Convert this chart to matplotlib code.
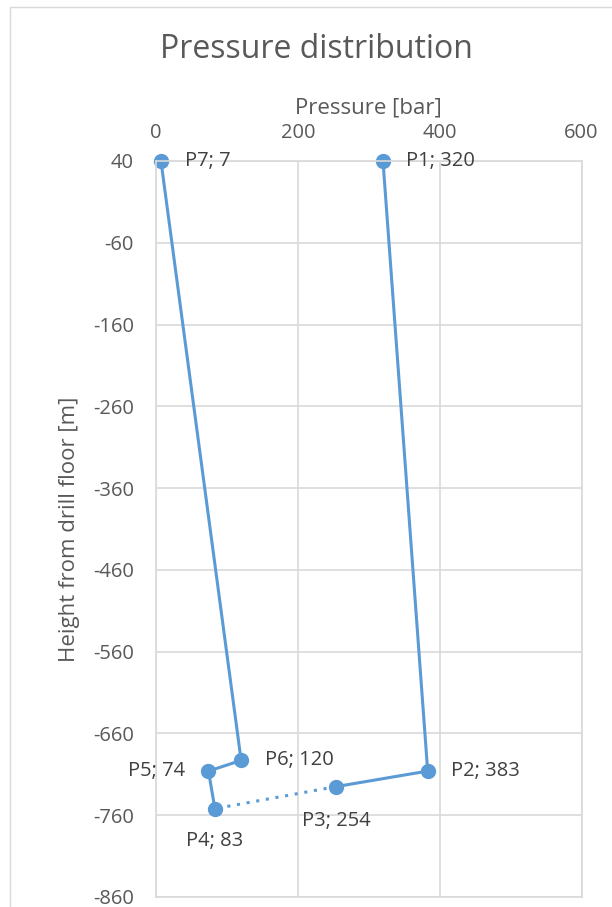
import matplotlib.pyplot as plt
from matplotlib.patches import Rectangle

# Стойности, отчетени от графиката
labels = ['P1', 'P2', 'P3', 'P4', 'P5', 'P6', 'P7']
pressure = [320, 383, 254, 83, 74, 120, 7]
height = [40, -706, -725, -752, -706, -693, 40]

x_ticks = [0, 200, 400, 600]
y_ticks = [40, -60, -160, -260, -360, -460, -560, -660, -760, -860]

blue = '#5b9bd5'
grid = '#d9d9d9'
txt = '#595959'
plt.rcParams['font.family'] = ['Open Sans', 'DejaVu Sans']
plt.rcParams['axes.unicode_minus'] = False

fig = plt.figure(figsize=(6.12, 9.07), dpi=100)
fig.patches.append(Rectangle((10 / 612, -0.1), 1.2, 1 - 7 / 907 + 0.1,
                             transform=fig.transFigure, fill=False,
                             edgecolor=grid, linewidth=1))
ax = fig.add_axes([156 / 612, 1 - 897 / 907, (581.6 - 156) / 612, (897 - 161) / 907])

# плътна линия P1-P2-P3, пунктир P3-P4, плътна P4-P7
ax.plot(pressure[:3], height[:3], color=blue, lw=2.2, marker='o', ms=10, clip_on=False)
ax.plot(pressure[2:4], height[2:4], color=blue, lw=2.2, ls=(0, (1, 2.2)))
ax.plot(pressure[3:], height[3:], color=blue, lw=2.2, marker='o', ms=10, clip_on=False)

offs = {'P1': (16.5, 0, 'left'), 'P2': (16.5, 0, 'left'),
        'P3': (0, -24.5, 'center'), 'P4': (0, -23, 'center'),
        'P5': (-16.5, 0, 'right'), 'P6': (17, 0, 'left'),
        'P7': (17, 0, 'left')}
for lab, p, h in zip(labels, pressure, height):
    dx, dy, ha = offs[lab]
    ax.annotate(f'{lab}; {p}', (p, h), xytext=(dx, dy), textcoords='offset points',
                ha=ha, va='center', fontsize=14.5, color='#404040')

ax.set_xlim(0, 600)
ax.set_ylim(-860, 40)
ax.set_xticks(x_ticks)
ax.set_yticks(y_ticks)
ax.xaxis.tick_top()
ax.xaxis.set_label_position('top')
ax.tick_params(length=0, labelsize=14.5, labelcolor=txt)
ax.tick_params(axis='x', pad=13)
ax.tick_params(axis='y', pad=16)
ax.grid(True, color=grid, lw=1.2)
for s in ax.spines.values():
    s.set_color(grid)
    s.set_linewidth(1.2)

ax.set_xlabel('Pressure [bar]', fontsize=16, color=txt, labelpad=7)
ax.set_ylabel('Height from drill floor [m]', fontsize=16, color=txt, labelpad=9)
fig.text(316 / 612, 1 - 50 / 907, 'Pressure distribution', ha='center', va='center',
         fontsize=23, color=txt)

fig.savefig('out.png', dpi=100)
